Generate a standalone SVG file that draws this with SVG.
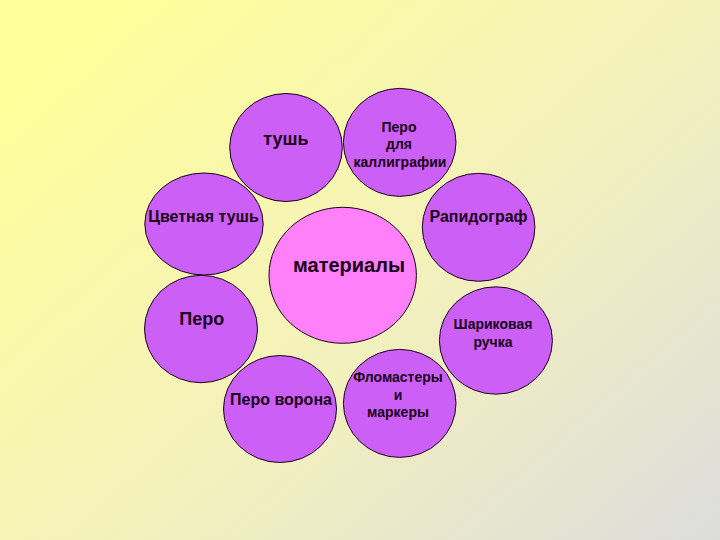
<svg xmlns="http://www.w3.org/2000/svg" width="720" height="540" viewBox="0 0 720 540">
<defs>
<linearGradient id="bg" x1="0" y1="0.15" x2="1" y2="1">
<stop offset="0" stop-color="#FFFF99"/>
<stop offset="0.55" stop-color="#F2F0BE"/>
<stop offset="1" stop-color="#DCDCDC"/>
</linearGradient>
<style>
.n{fill:#CC5FF5;stroke:#1a001a;stroke-width:1}
.c{fill:#FF80F8;stroke:#1a001a;stroke-width:1}
text{font-family:"Liberation Sans",Arial,sans-serif;font-weight:bold;fill:#1a001a;text-anchor:middle}
.s14{font-size:14px}.s16{font-size:16px}.s18{font-size:18px}.s20{font-size:20px}
</style>
</defs>
<rect width="720" height="540" fill="url(#bg)"/>
<g id="connectors"/>
<g id="n-center"><ellipse class="c" cx="342.7" cy="275.3" rx="73.7" ry="68"/><text class="s20" x="349" y="271.5">материалы</text></g>
<g id="n-tush"><ellipse class="n" cx="286" cy="147.5" rx="56.3" ry="54"/><text class="s18" x="286" y="145">тушь</text></g>
<g id="n-kalli"><ellipse class="n" cx="399.7" cy="142.4" rx="56.3" ry="54"/><text class="s14"><tspan x="399" y="131.5">Перо</tspan><tspan x="399" y="149">для</tspan><tspan x="400" y="166.5">каллиграфии</tspan></text></g>
<g id="n-color"><ellipse class="n" cx="204" cy="224" rx="59.2" ry="51"/><text class="s16" x="203.5" y="221.5">Цветная тушь</text></g>
<g id="n-rapid"><ellipse class="n" cx="478.6" cy="227.3" rx="56.3" ry="54"/><text class="s16" x="478.5" y="221.5">Рапидограф</text></g>
<g id="n-pero"><ellipse class="n" cx="201" cy="329" rx="56.5" ry="53.7"/><text class="s18" x="201.7" y="325">Перо</text></g>
<g id="n-shar"><ellipse class="n" cx="495.9" cy="340.5" rx="56.5" ry="53.7"/><text class="s14"><tspan x="493" y="329">Шариковая</tspan><tspan x="493" y="346.5">ручка</tspan></text></g>
<g id="n-vorona"><ellipse class="n" cx="280" cy="409" rx="56.5" ry="53.5"/><text class="s16" x="281" y="405">Перо ворона</text></g>
<g id="n-flom"><ellipse class="n" cx="399.7" cy="403.4" rx="56.3" ry="54"/><text class="s14"><tspan x="398" y="382">Фломастеры</tspan><tspan x="398" y="399.5">и</tspan><tspan x="398" y="417">маркеры</tspan></text></g>
</svg>
